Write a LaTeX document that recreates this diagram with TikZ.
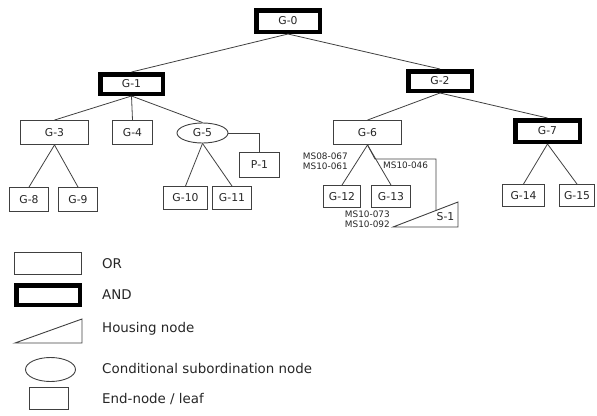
\documentclass[tikz,border=0pt]{standalone}
\usepackage{fontspec}
\setmainfont{DejaVu Sans}
\usetikzlibrary{shapes.geometric}
\begin{document}
\begin{tikzpicture}[x=1pt,y=-1pt,
  every node/.style={text=black!85},
  ornode/.style={draw=black!75,line width=0.9pt,rectangle,inner sep=0pt,font=\fontsize{10.8}{12}\selectfont},
  andnode/.style={draw=black,line width=4.5pt,rectangle,inner sep=0pt,font=\fontsize{10.8}{12}\selectfont},
  condnode/.style={draw=black!75,line width=0.9pt,ellipse,inner sep=0pt,font=\fontsize{10.8}{12}\selectfont},
  edge/.style={draw=black!75,line width=0.8pt},
  mslabel/.style={inner sep=0pt,font=\fontsize{8.9}{10}\selectfont},
  legtext/.style={anchor=west,inner sep=0pt,font=\fontsize{13.4}{15}\selectfont}]
\useasboundingbox (0,0) rectangle (597,415);
% tree nodes
\node[andnode,minimum width=63.5pt,minimum height=21.5pt] (g0) at (288,21) {G-0};
\node[andnode,minimum width=62.5pt,minimum height=19.5pt] (g1) at (131.5,84) {G-1};
\node[andnode,minimum width=63.5pt,minimum height=19.5pt] (g2) at (440,81) {G-2};
\node[ornode,minimum width=68pt,minimum height=24pt] (g3) at (54.5,132.5) {G-3};
\node[ornode,minimum width=40pt,minimum height=24pt] (g4) at (132.5,132.5) {G-4};
\node[condnode,minimum width=51pt,minimum height=20pt] (g5) at (202.5,133) {G-5};
\node[ornode,minimum width=40pt,minimum height=25pt] (p1) at (259.5,165) {P-1};
\node[ornode,minimum width=68pt,minimum height=24pt] (g6) at (367.5,132.5) {G-6};
\node[andnode,minimum width=64.5pt,minimum height=21.5pt] (g7) at (547.5,131) {G-7};
\node[ornode,minimum width=39pt,minimum height=24pt] (g8) at (29,199.5) {G-8};
\node[ornode,minimum width=39pt,minimum height=24pt] (g9) at (78,199.5) {G-9};
\node[ornode,minimum width=44pt,minimum height=23pt] (g10) at (185.5,198) {G-10};
\node[ornode,minimum width=39pt,minimum height=23pt] (g11) at (232,198) {G-11};
\node[ornode,minimum width=37pt,minimum height=22pt] (g12) at (342,196.5) {G-12};
\node[ornode,minimum width=39pt,minimum height=22pt] (g13) at (391,196.5) {G-13};
\node[ornode,minimum width=42pt,minimum height=22pt] (g14) at (523.5,195.5) {G-14};
\node[ornode,minimum width=35pt,minimum height=22pt] (g15) at (577,195.5) {G-15};
% housing triangle S-1
\coordinate (s1tip) at (393,227);
\coordinate (s1top) at (458,202);
\coordinate (s1br) at (458,227);
\draw[draw=black!75,line width=0.9pt] (s1tip) -- (s1top) -- (s1br) -- cycle;
\node[inner sep=0pt,font=\fontsize{10.8}{12}\selectfont] (s1) at (445.5,217) {S-1};
\coordinate (s1in) at (436,210.5);
\coordinate (k1) at (375,159);
\coordinate (k2) at (436,159);
% connectors
\path[edge] (g0.south) -- (g1.north);
\path[edge] (g0.south) -- (g2.north);
\path[edge] (g1.south) -- (g3.north);
\path[edge] (g1.south) -- (g4.north);
\path[edge] (g1.south) -- (g5.north);
\path[edge] (g2.south) -- (g6.north);
\path[edge] (g2.south) -- (g7.north);
\path[edge] (g3.south) -- (g8.north);
\path[edge] (g3.south) -- (g9.north);
\path[edge] (g5.south) -- (g10.north);
\path[edge] (g5.south) -- (g11.north);
\path[edge] (g5.east) -| (p1.north);
\path[edge] (g6.south) -- (g12.north);
\path[edge] (g6.south) -- (g13.north);
\path[edge] (g6.south) -- (k1) -- (k2) -- (s1in);
\path[edge] (g7.south) -- (g14.north);
\path[edge] (g7.south) -- (g15.north);
% labels
\node[mslabel,anchor=east,align=right] (l1) at (348,161) {MS08-067\\MS10-061};
\node[mslabel,anchor=west] (l2) at (383,165.5) {MS10-046};
\node[mslabel,anchor=east,align=right] (l3) at (390,219.5) {MS10-073\\MS10-092};
% legend
\node[ornode,minimum width=67pt,minimum height=22pt] (lor) at (48,263.5) {};
\node[legtext] (tor) at (102,263.5) {OR};
\node[andnode,minimum width=63.5pt,minimum height=19.5pt] (land) at (48,295) {};
\node[legtext] (tand) at (102,295) {AND};
\coordinate (ltip) at (15,343);
\coordinate (ltop) at (82,319);
\coordinate (lbr) at (82,343);
\draw[draw=black!75,line width=0.9pt] (ltip) -- (ltop) -- (lbr) -- cycle;
\node[legtext] (thouse) at (102,329) {Housing node};
\node[condnode,minimum width=50pt,minimum height=24pt] (lcond) at (50.5,369.5) {};
\node[legtext] (tcond) at (102,368) {Conditional subordination node};
\node[ornode,minimum width=39pt,minimum height=22pt] (lleaf) at (49,398.5) {};
\node[legtext] (tleaf) at (102,399) {End-node / leaf};
\end{tikzpicture}
\end{document}
